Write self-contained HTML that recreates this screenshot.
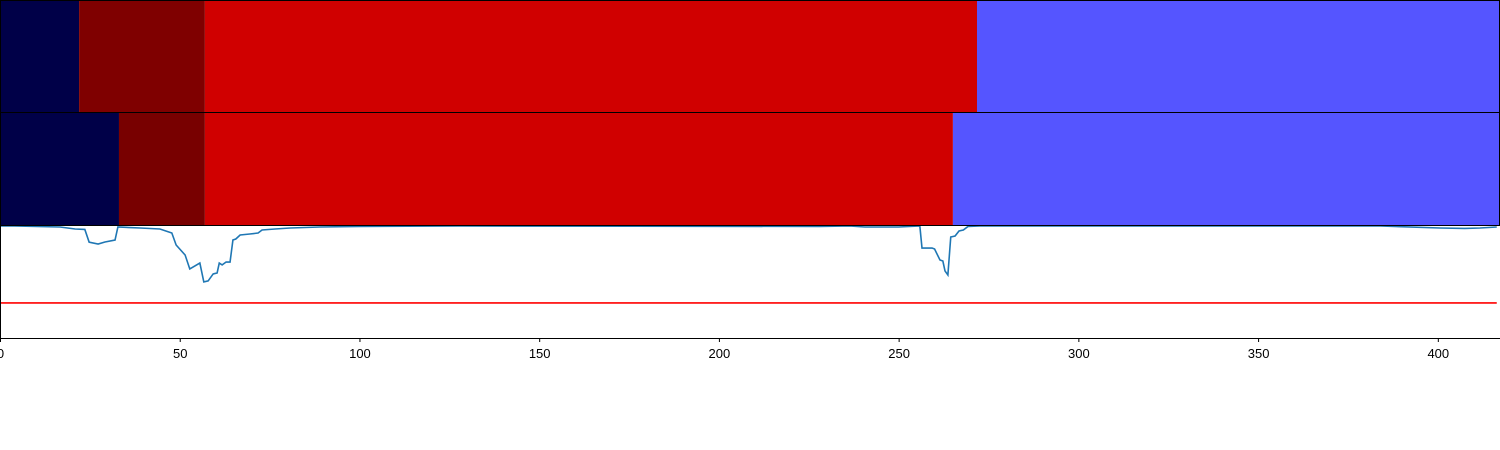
<!DOCTYPE html>
<html><head><meta charset="utf-8"><style>
html,body{margin:0;padding:0;background:#fff;width:1500px;height:450px;overflow:hidden}
svg{display:block;font-family:"Liberation Sans",sans-serif}
</style></head><body>
<svg id="chart" width="1500" height="450"></svg>
<script>
const xTicks=[0,50,100,150,200,250,300,350,400];
const row1Bounds=[0,22,57,271.8,417.3];
const row2Bounds=[0,33.1,57,265.1,417.3];
const row1Colors=["#000048","#7f0000","#d00000","#5555ff"];
const row2Colors=["#000048","#780000","#d00000","#5555ff"];
const lineX=[0,4,16.7,20.9,23.6,24.8,27.3,29.2,32,32.8,39,44.5,47.8,49,51.5,52.8,55.6,56.7,57.9,59.3,60.4,61,61.8,62.9,64,64.8,65.6,66.8,69.5,71.8,72.9,76.5,80.7,89,100,128,228,236.4,240.6,250,255.9,256.5,259.3,260,261.5,262.3,262.9,263.7,264.5,265.7,266.8,268,269.3,272.6,384,400.6,407.5,411.7,416.4];
const lineY=[0,0,-0.013,-0.039,-0.045,-0.21,-0.234,-0.208,-0.182,-0.013,-0.026,-0.039,-0.091,-0.247,-0.377,-0.558,-0.481,-0.727,-0.714,-0.623,-0.61,-0.481,-0.506,-0.468,-0.468,-0.182,-0.169,-0.117,-0.104,-0.091,-0.052,-0.039,-0.026,-0.013,-0.006,0,-0.006,0,-0.013,-0.013,0,-0.286,-0.286,-0.299,-0.442,-0.455,-0.584,-0.636,-0.143,-0.13,-0.065,-0.052,-0.006,0,0,-0.026,-0.032,-0.026,-0.013];
const thresholdY=-1.0;

const NS="http://www.w3.org/2000/svg";
const svg=document.getElementById('chart');
const xMin=0,xMax=417.3,pxL=0,pxR=1500;
const X=v=>pxL+(v-xMin)/(xMax-xMin)*(pxR-pxL);
const yTop=225,yBot=338,vTop=0.013,vBot=-1.455;
const Y=v=>yTop+(vTop-v)/(vTop-vBot)*(yBot-yTop);
function mk(tag,attrs){const e=document.createElementNS(NS,tag);for(const k in attrs)e.setAttribute(k,attrs[k]);svg.appendChild(e);return e;}

// line panel
const pts=lineX.map((x,i)=>X(x).toFixed(2)+','+Y(lineY[i]).toFixed(2)).join(' ');
const pl=mk('polyline',{points:pts,fill:'none',stroke:'#1f77b4','stroke-width':1.6});


const th=mk('line',{x1:X(0),x2:X(416.4),y1:Y(thresholdY),y2:Y(thresholdY),stroke:'#ff0000','stroke-width':1.6});



function drawRow(bounds,colors,y0,h,name){
  for(let i=0;i<colors.length;i++){
    const r=mk('rect',{x:X(bounds[i]),y:y0,width:X(bounds[i+1])-X(bounds[i]),height:h,fill:colors[i]});
    
    
  }
  const b=mk('rect',{x:0.5,y:y0+0.5,width:1499,height:h-1,fill:'none',stroke:'#000','stroke-width':1});
  
  
}
drawRow(row1Bounds,row1Colors,0,113,'top-bar');
drawRow(row2Bounds,row2Colors,112,114,'bottom-bar');

// axes
const ls=mk('line',{x1:0.5,x2:0.5,y1:0,y2:338,stroke:'#000','stroke-width':1});


const bs=mk('line',{x1:0,x2:1500,y1:338.5,y2:338.5,stroke:'#000','stroke-width':1});


xTicks.forEach(t=>{
  const tk=mk('line',{x1:X(t)+0.5,x2:X(t)+0.5,y1:338,y2:342,stroke:'#000','stroke-width':1});
  
  
  const tx=mk('text',{x:X(t)+0.5,y:358,'text-anchor':'middle','font-size':13,fill:'#000'});
  tx.textContent=t;
  
  
});
</script>
</body></html>
